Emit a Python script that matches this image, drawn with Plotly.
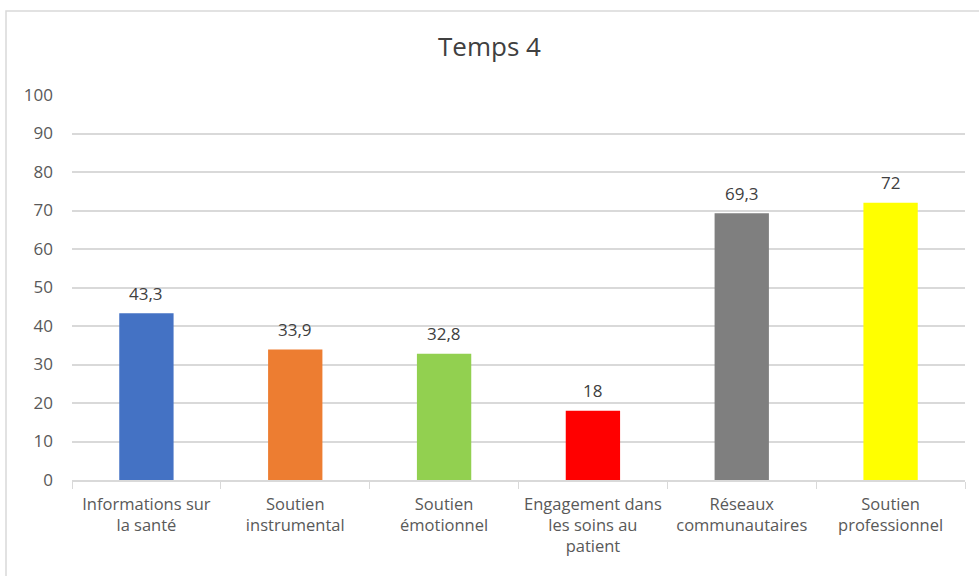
import plotly.graph_objects as go

categories = ["Informations sur<br>la santé", "Soutien<br>instrumental", "Soutien<br>émotionnel",
              "Engagement dans<br>les soins au<br>patient", "Réseaux<br>communautaires", "Soutien<br>professionnel"]
values = [43.3, 33.9, 32.8, 18, 69.3, 72]
labels = ["43,3", "33,9", "32,8", "18", "69,3", "72"]
colors = ["#4472C4", "#ED7D31", "#92D050", "#FF0000", "#7F7F7F", "#FFFF00"]
yticks = list(range(0, 101, 10))

FONT = "Open Sans, Noto Sans, sans-serif"
TXT = "#404040"
GRAY = "#595959"

fig = go.Figure(go.Bar(
    x=categories, y=values, marker=dict(color=colors, line=dict(width=0)),
    hoverinfo="x+y",
))

for c, v, t in zip(categories, values, labels):
    fig.add_annotation(x=c, y=v, text=t, showarrow=False, yanchor="middle", yshift=20,
                       font=dict(family=FONT, size=17, color=TXT))

L, R, T, B = 72, 14, 95, 96
W, H = 979, 576
pw, ph = W - L - R, H - T - B

def px2x(px):
    return (px - L) / pw

def py2y(py):
    return (H - B - py) / ph

fig.update_layout(
    width=W, height=H,
    margin=dict(l=L, r=R, t=T, b=B, autoexpand=False),
    paper_bgcolor="white", plot_bgcolor="white",
    title=dict(text="Temps 4", x=0.5, xanchor="center", y=1 - 47 / H, yanchor="middle",
               font=dict(family=FONT, size=26, color=TXT)),
    bargap=0.635,
    showlegend=False,
    xaxis=dict(
        showgrid=False, showline=True, linecolor="#d9d9d9", linewidth=1.5,
        ticks="outside", tickson="boundaries", ticklen=7, tickcolor="#d9d9d9",
        ticklabelstandoff=8, tickangle=0, automargin=False,
        tickfont=dict(family=FONT, size=16.5, color=GRAY),
    ),
    yaxis=dict(
        range=[0, 100], tickvals=yticks, showgrid=True, gridcolor="#d9d9d9", gridwidth=1.5,
        zeroline=False, showline=False, ticks="", ticklabelstandoff=18, automargin=False,
        tickfont=dict(family=FONT, size=17, color=GRAY),
    ),
    shapes=[dict(type="rect", xref="paper", yref="paper",
                 x0=px2x(6), x1=px2x(990), y0=py2y(590), y1=py2y(11),
                 line=dict(color="#d9d9d9", width=1.5), layer="below")],
)

fig.write_html("out.html", config={"displayModeBar": False},
               post_script="document.body.style.margin='0';document.body.style.overflow='hidden';")
